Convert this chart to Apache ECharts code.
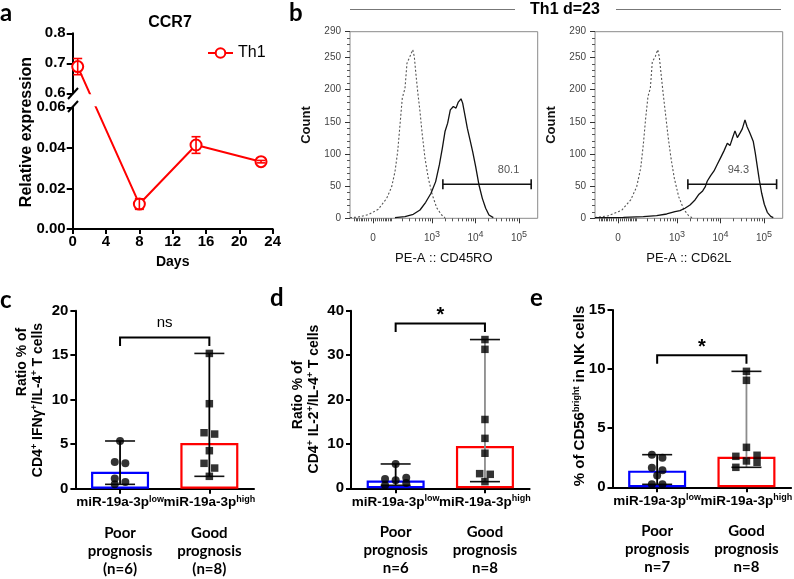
<!DOCTYPE html>
<html>
<head>
<meta charset="utf-8">
<script src="https://cdn.jsdelivr.net/npm/echarts@6/dist/echarts.min.js"></script>
</head>
<body style="margin:0;background:#fff">
<div id="container" style="width:794px;height:579px;"></div>
<script>
// ---- a: CCR7 expression, Th1 ----
var aDays = [0.6, 8, 14.8, 22.6];
var aMean = [0.689, 0.0123, 0.0414, 0.0332];
var aErr = [0.027, 0.0026, 0.0041, 0.0006];

// ---- b: histograms (x in display decades, y = count) ----
var cd45roIsoX = [1.115,1.306,1.536,1.766,1.958,2.073,2.149,2.211,2.264,2.317,2.379,2.425,2.494,2.557,2.593,2.625,2.671,2.724,2.777,2.839,2.915,3.008,3.107,3.222,3.299];
var cd45roIsoY = [1,2,5.6,14,31,49,72.5,103.7,145,186.8,202,241,251.6,262,251.6,228,197,166,129.7,93.4,62.3,36.3,16.5,5.1,0.9];
var cd45roX = [2.149,2.379,2.570,2.724,2.855,2.977,3.084,3.169,3.238,3.299,3.360,3.421,3.490,3.552,3.605,3.667,3.705,3.759,3.812,3.874,3.935,4.004,4.080,4.157,4.234,4.310,4.410];
var cd45roY = [1,2.5,6.2,12.9,24.9,38.9,57,83,109,134.8,147.9,168.6,173.7,171.2,180.6,185.7,179,159.7,140,121.9,103.7,80.3,51.8,31,15.6,5.1,1];
var cd62lIsoX = [1.115,1.421,1.729,1.935,2.073,2.165,2.225,2.280,2.333,2.387,2.432,2.502,2.557,2.593,2.632,2.685,2.747,2.800,2.862,2.938,3.039,3.154,3.268,3.345];
var cd62lIsoY = [1,4,12.4,28.5,49,77.8,114,155.7,189.3,202,242.8,251.6,262,251,225.7,192,155.7,124.5,93.4,62.3,33.6,14,4,1];
var cd62lX = [1.115,1.766,2.225,2.533,2.763,2.954,3.069,3.184,3.299,3.414,3.506,3.590,3.651,3.697,3.774,3.851,3.927,4.004,4.080,4.157,4.218,4.280,4.333,4.387,4.448,4.501,4.563,4.609,4.678,4.754,4.800,4.846,4.892,4.947,5.007,5.076,5.154,5.214];
var cd62lY = [1,1.4,2.5,4,6.7,10.3,11.8,15.6,20.7,28.5,37.4,42.5,49.2,58,66.3,73.6,84,94.3,104.8,116.7,113,125.5,135.9,125.5,132.3,139,153,142.6,132.3,119.2,101.2,80.3,59.6,38.9,21.8,9.3,3.1,1];
var gateFrom = [3.25, 3.25];
var gateTo = [5.28, 5.29];
var gateLevel = [53, 53];
var gateText = ['80.1', '94.3'];
var gateTextX = [4.76, 4.41];
var gateTextY = [75, 75];
var majorTickValues = [0, 1000, 10000, 100000];

// ---- c, d, e: dot plots ----
var groupSup = ['low', 'high'];
var cLow = [5.36, 2.85, 3.0, 1.16, 0.75, 0.49];
var cHigh = [15.2, 9.55, 6.29, 6.14, 4.27, 2.85, 2.32, 1.39];
var cBar = [1.91, 5.13];
var dLow = [5.48, 2.4, 2.1, 1.8, 1.2, 0.68];
var dHigh = [33.5, 31.3, 15.5, 11.25, 7.9, 3.3, 3.15, 1.5];
var dBar = [1.73, 9.5];
var eLow = [2.76, 2.51, 1.66, 1.44, 0.99, 0.25, 0.25];
var eHigh = [9.81, 9.05, 3.38, 2.71, 2.62, 2.23, 2.11, 1.69];
var eBar = [1.41, 2.59];
var sigText = ['ns', '*', '*'];

var RED = '#ff0000', BLUE = '#0000ff';
var AR = "'Liberation Sans', Arial, sans-serif";
var CAL = "Lato, 'Open Sans', sans-serif";

var grids = [
  {left: 72.7, top: 33.3, width: 200, height: 60},
  {left: 72.7, top: 107.3, width: 200, height: 121.7},
  {left: 350, top: 31.7, width: 187.7, height: 186.6, show: true, borderColor: '#8a8a8a', borderWidth: 1},
  {left: 595, top: 31.7, width: 187.7, height: 186.6, show: true, borderColor: '#8a8a8a', borderWidth: 1},
  {left: 350, top: 31.7, width: 187.7, height: 186.6},
  {left: 595, top: 31.7, width: 187.7, height: 186.6},
  {left: 75.4, top: 310.7, width: 178.6, height: 178},
  {left: 351, top: 310.7, width: 178.6, height: 177.6},
  {left: 612.5, top: 310, width: 178.6, height: 177.3}
];
grids.forEach(function (g) { g.outerBoundsMode = 'none'; g.containLabel = false; });

// broken y axis of panel a: pixel mapping, so the line stays straight across the gap
var aTop = {min: 0.6, max: 0.8, g: grids[0]};
var aBot = {min: 0, max: 0.06, g: grids[1]};
function aPx(v) {
  var s = v >= aTop.min ? aTop : aBot;
  return s.g.top + (s.max - v) / (s.max - s.min) * s.g.height;
}
function aVal(s, px) { return s.max - (px - s.g.top) / s.g.height * (s.max - s.min); }

// biexponential-like display scale of the flow axes
function biex(v) { return 3 + (Math.asinh(v / 88) - Math.asinh(1000 / 88)) / Math.LN10; }
var bMin = 1.115, bMax = 5.43;
var majorU = majorTickValues.map(biex);
var minorVals = [];
for (var k = 1; k <= 9; k++) {
  minorVals.push(10 * k, -10 * k, 100 * k, -100 * k);
  if (k > 1) minorVals.push(1000 * k, 10000 * k);
}
var minorU = minorVals.map(biex).filter(function (u) { return u > bMin && u < bMax; });
function majorLabel(u) {
  for (var i = 0; i < majorU.length; i++) {
    if (Math.abs(majorU[i] - u) < 1e-6) {
      var v = majorTickValues[i];
      return v === 0 ? '0' : '10{s|' + Math.round(Math.log10(v)) + '}';
    }
  }
  return '';
}

// simple swarm: close points are spread sideways (pixel offsets)
function swarm(vals, pxPerUnit) {
  var order = vals.map(function (v, i) { return i; }).sort(function (a, b) { return vals[b] - vals[a]; });
  var clusters = [], cur = [];
  order.forEach(function (i, n) {
    if (n > 0 && (vals[order[n - 1]] - vals[i]) * pxPerUnit < 5.2) cur.push(i);
    else { if (cur.length) clusters.push(cur); cur = [i]; }
  });
  clusters.push(cur);
  var off = [];
  clusters.forEach(function (c) {
    var pat = c.length === 1 ? [0] : c.length <= 3 ? [-5.3, 5.3] : [10.6, -10.6, 0];
    c.forEach(function (i, j) { off[i] = pat[j % pat.length]; });
  });
  return off;
}

var xAxis = [], yAxis = [], series = [];

// ---------- panel a ----------
xAxis.push({gridIndex: 0, type: 'value', min: 0, max: 24, show: false});
xAxis.push({
  gridIndex: 1, type: 'value', min: 0, max: 24, interval: 4,
  axisLine: {show: true, lineStyle: {color: '#000', width: 2}},
  axisTick: {show: true, length: 5, lineStyle: {color: '#000', width: 2}},
  axisLabel: {fontSize: 15, fontWeight: 'bold', color: '#000', margin: 5},
  splitLine: {show: false},
  name: 'Days', nameLocation: 'middle', nameGap: 26,
  nameTextStyle: {fontSize: 14, fontWeight: 'bold', color: '#000'}
});
[aTop, aBot].forEach(function (s, i) {
  yAxis.push({
    gridIndex: i, type: 'value', min: s.min, max: s.max, interval: i ? 0.02 : 0.1,
    axisLine: {show: true, lineStyle: {color: '#000', width: 2}},
    axisTick: {show: true, length: 6, lineStyle: {color: '#000', width: 2}},
    axisLabel: {fontSize: 15, fontWeight: 'bold', color: '#000', margin: 7,
      formatter: function (v) { return v.toFixed(i ? 2 : 1); }},
    splitLine: {show: false}
  });
  series.push({
    type: 'line', name: 'Th1', xAxisIndex: i, yAxisIndex: i, clip: true, z: 3,
    symbol: 'emptyCircle', symbolSize: 11,
    itemStyle: {color: RED, borderWidth: 2},
    lineStyle: {color: RED, width: 2},
    data: aDays.map(function (d, j) { return [d, aVal(s, aPx(aMean[j]))]; })
  });
  series.push({
    type: 'custom', xAxisIndex: i, yAxisIndex: i, z: 4,
    data: aDays.map(function (d, j) { return [d, aMean[j] - aErr[j], aMean[j] + aErr[j], aMean[j]]; })
      .filter(function (r) { return r[3] >= s.min && r[3] <= s.max; }),
    renderItem: function (params, api) {
      var lo = api.coord([api.value(0), api.value(1)]);
      var hi = api.coord([api.value(0), api.value(2)]);
      var st = {stroke: RED, lineWidth: 1.6};
      return {type: 'group', children: [
        {type: 'line', shape: {x1: lo[0], y1: lo[1], x2: hi[0], y2: hi[1]}, style: st},
        {type: 'line', shape: {x1: lo[0] - 4.5, y1: lo[1], x2: lo[0] + 4.5, y2: lo[1]}, style: st},
        {type: 'line', shape: {x1: hi[0] - 4.5, y1: hi[1], x2: hi[0] + 4.5, y2: hi[1]}, style: st}
      ]};
    }
  });
});

// ---------- panel b ----------
var bNames = ['PE-A :: CD45RO', 'PE-A :: CD62L'];
[2, 3].forEach(function (g, i) {
  xAxis.push({
    gridIndex: g, type: 'value', min: bMin, max: bMax,
    axisLine: {show: false},
    axisTick: {show: true, customValues: majorU, length: 5, lineStyle: {color: '#333'}},
    axisLabel: {show: true, customValues: majorU, formatter: majorLabel, color: '#444', fontSize: 10,
      lineHeight: 16, margin: 12, rich: {s: {fontSize: 9, color: '#444', lineHeight: 2, verticalAlign: 'top'}}},
    splitLine: {show: false},
    name: bNames[i], nameLocation: 'middle', nameGap: 34,
    nameTextStyle: {fontSize: 13, color: '#111'}
  });
  yAxis.push({
    gridIndex: g, type: 'value', min: 0, max: 290, interval: 50,
    axisLine: {show: false},
    axisTick: {show: true, length: 5, lineStyle: {color: '#333'}},
    minorTick: {show: true, splitNumber: 5, length: 3, lineStyle: {color: '#555'}},
    axisLabel: {fontSize: 10, color: '#444', margin: 9},
    splitLine: {show: false}, minorSplitLine: {show: false},
    name: 'Count', nameLocation: 'middle', nameGap: 37,
    nameTextStyle: {fontSize: 13, fontWeight: 'bold', color: '#111'}
  });
});
[4, 5].forEach(function (g) {
  xAxis.push({
    gridIndex: g, type: 'value', min: bMin, max: bMax,
    axisLine: {show: false}, axisLabel: {show: false}, splitLine: {show: false},
    axisTick: {show: true, customValues: minorU, length: 3, lineStyle: {color: '#555'}}
  });
  yAxis.push({gridIndex: g, type: 'value', min: 0, max: 290, show: false});
});
[[cd45roIsoX, cd45roIsoY, 2, true], [cd45roX, cd45roY, 2, false],
 [cd62lIsoX, cd62lIsoY, 3, true], [cd62lX, cd62lY, 3, false]].forEach(function (h) {
  series.push({
    type: 'line', xAxisIndex: h[2], yAxisIndex: h[2], showSymbol: false, symbol: 'none', silent: true, z: 3,
    lineStyle: h[3] ? {color: '#555', width: 1.1, type: [2, 2]} : {color: '#111', width: 1.3},
    data: h[0].map(function (x, j) { return [x, h[1][j]]; })
  });
});
[2, 3].forEach(function (g, i) {
  series.push({
    type: 'custom', xAxisIndex: g, yAxisIndex: g, z: 4,
    data: [[gateFrom[i], gateTo[i], gateLevel[i], gateTextX[i], gateTextY[i]]],
    renderItem: function (params, api) {
      var a = api.coord([api.value(0), api.value(2)]);
      var b = api.coord([api.value(1), api.value(2)]);
      var t = api.coord([api.value(3), api.value(4)]);
      var st = {stroke: '#111', lineWidth: 1.6};
      return {type: 'group', children: [
        {type: 'line', shape: {x1: a[0], y1: a[1], x2: b[0], y2: b[1]}, style: st},
        {type: 'line', shape: {x1: a[0], y1: a[1] - 5, x2: a[0], y2: a[1] + 5}, style: st},
        {type: 'line', shape: {x1: b[0], y1: b[1] - 5, x2: b[0], y2: b[1] + 5}, style: st},
        {type: 'text', x: t[0], y: t[1], style: {text: gateText[i], fill: '#555', font: '11px ' + AR,
          align: 'center', verticalAlign: 'middle', textAlign: 'center', textVerticalAlign: 'middle'}}
      ]};
    }
  });
});

// ---------- panels c, d, e ----------
var panels = [
  {grid: 6, low: cLow, high: cHigh, bar: cBar, max: 20, step: 5, paren: true, stem: '#000'},
  {grid: 7, low: dLow, high: dHigh, bar: dBar, max: 40, step: 10, paren: false, stem: '#8c8c8c'},
  {grid: 8, low: eLow, high: eHigh, bar: eBar, max: 15, step: 5, paren: false, stem: '#8c8c8c'}
];
panels.forEach(function (p, pi) {
  var g = p.grid;
  var groups = [p.low, p.high];
  var prog = groups.map(function (vs, i) {
    var n = 'n=' + vs.length;
    return [i ? 'Good' : 'Poor', 'prognosis', p.paren ? '(' + n + ')' : n];
  });
  xAxis.push({
    gridIndex: g, type: 'category', data: groupSup,
    axisLine: {show: true, lineStyle: {color: '#000', width: 2}},
    axisTick: {show: true, alignWithLabel: true, length: 5, lineStyle: {color: '#000', width: 2}},
    axisLabel: {
      margin: 6, interval: 0,
      formatter: function (v, i) {
        return '{m|miR-19a-3p}{s|' + v + '}\n{g| }\n' +
          prog[i].map(function (t) { return '{p|' + t + '}'; }).join('\n');
      },
      rich: {
        m: {fontSize: 13.5, fontWeight: 'bold', color: '#000', fontFamily: AR, lineHeight: 16},
        s: {fontSize: 9, fontWeight: 'bold', color: '#000', fontFamily: AR, lineHeight: 8, verticalAlign: 'top'},
        g: {fontSize: 6, lineHeight: 13},
        p: {fontSize: 15, fontWeight: 'bold', color: '#000', fontFamily: CAL, lineHeight: 18}
      }
    },
    splitLine: {show: false}
  });
  yAxis.push({
    gridIndex: g, type: 'value', min: 0, max: p.max, interval: p.step,
    axisLine: {show: true, lineStyle: {color: '#000', width: 2}},
    axisTick: {show: true, length: 5, lineStyle: {color: '#000', width: 2}},
    axisLabel: {fontSize: 15, fontWeight: 'bold', color: '#000', margin: 7},
    splitLine: {show: false}
  });
  series.push({
    type: 'bar', xAxisIndex: g, yAxisIndex: g, barWidth: 58, z: 2, silent: true,
    data: p.bar.map(function (v, i) {
      return {value: v, itemStyle: {color: '#fff', borderColor: i ? RED : BLUE, borderWidth: 2.2}};
    })
  });
  series.push({
    type: 'custom', xAxisIndex: g, yAxisIndex: g, z: 3,
    data: groups.map(function (vs, i) { return [i, Math.min.apply(null, vs), Math.max.apply(null, vs)]; }),
    renderItem: function (params, api) {
      var lo = api.coord([api.value(0), api.value(1)]);
      var hi = api.coord([api.value(0), api.value(2)]);
      var cap = {stroke: '#111', lineWidth: 1.6};
      return {type: 'group', children: [
        {type: 'line', shape: {x1: lo[0], y1: lo[1], x2: hi[0], y2: hi[1]},
          style: {stroke: params.dataIndex ? p.stem : '#000', lineWidth: 1.8}},
        {type: 'line', shape: {x1: lo[0] - 15, y1: lo[1], x2: lo[0] + 15, y2: lo[1]}, style: cap},
        {type: 'line', shape: {x1: hi[0] - 15, y1: hi[1], x2: hi[0] + 15, y2: hi[1]}, style: cap}
      ]};
    }
  });
  var k = grids[g].height / p.max;
  groups.forEach(function (vs, i) {
    var off = swarm(vs, k);
    series.push({
      type: 'scatter', xAxisIndex: g, yAxisIndex: g, z: 5, silent: true,
      symbol: i ? 'rect' : 'circle', symbolSize: i ? 7.5 : 8,
      itemStyle: {color: '#000'},
      data: vs.map(function (v, j) { return {value: [i, v], symbolOffset: [off[j], 0]}; })
    });
  });
  var star = sigText[pi] === '*';
  series.push({
    type: 'custom', xAxisIndex: g, yAxisIndex: g, z: 4,
    data: [[0, 1, Math.max.apply(null, p.low.concat(p.high))]],
    renderItem: function (params, api) {
      var a = api.coord([api.value(0), api.value(2)]);
      var b = api.coord([api.value(1), api.value(2)]);
      var top = a[1] - 16, leg = top + 8.5;
      return {type: 'group', children: [
        {type: 'polyline', shape: {points: [[a[0], leg], [a[0], top], [b[0], top], [b[0], leg]]},
          style: {stroke: '#000', lineWidth: 2, fill: 'none'}},
        {type: 'text', x: (a[0] + b[0]) / 2, y: top - (star ? 8 : 15),
          style: {text: sigText[pi], fill: '#000', font: (star ? 'bold 20px ' : '15px ') + AR,
            align: 'center', verticalAlign: 'middle', textAlign: 'center', textVerticalAlign: 'middle'}}
      ]};
    }
  });
});

// ---------- free text and decorations ----------
function txt(x, y, text, font, extra) {
  var el = {type: 'text', x: x, y: y, silent: true,
    style: {text: text, font: font, fill: '#000', align: 'center', verticalAlign: 'middle',
      textAlign: 'center', textVerticalAlign: 'middle'}};
  if (extra) {
    if (extra.rotation) el.rotation = extra.rotation;
    if (extra.rich) el.style.rich = extra.rich;
    if (extra.align) { el.style.align = extra.align; el.style.textAlign = extra.align; }
    if (extra.va) { el.style.verticalAlign = extra.va; el.style.textVerticalAlign = extra.va; }
    if (extra.lineHeight) el.style.lineHeight = extra.lineHeight;
  }
  return el;
}
function seg(x1, y1, x2, y2, color, w) {
  return {type: 'line', silent: true, shape: {x1: x1, y1: y1, x2: x2, y2: y2}, style: {stroke: color, lineWidth: w}};
}
var R90 = Math.PI / 2;
var supRich = {s: {font: 'bold 9px ' + AR, fill: '#000', lineHeight: 8, verticalAlign: 'top'}};
var letterFont = 'bold 24px ' + CAL;
var graphics = [
  txt(0, 25, 'a', letterFont, {align: 'left', va: 'bottom'}),
  txt(289, 25, 'b', letterFont, {align: 'left', va: 'bottom'}),
  txt(0, 312, 'c', letterFont, {align: 'left', va: 'bottom'}),
  txt(270, 310, 'd', letterFont, {align: 'left', va: 'bottom'}),
  txt(530, 310, 'e', letterFont, {align: 'left', va: 'bottom'}),
  txt(170, 23, 'CCR7', 'bold 16px ' + AR),
  txt(26.7, 132, 'Relative expression', 'bold 16px ' + AR, {rotation: R90}),
  seg(68, 99, 78, 88, '#000', 2),
  seg(68, 112, 78, 101, '#000', 2),
  txt(565, 10, 'Th1 d=23', 'bold 16px ' + AR),
  seg(350, 9.5, 515, 9.5, '#777', 1.2),
  seg(616, 9.5, 781, 9.5, '#777', 1.2),
  txt(22, 362, 'Ratio % of', 'bold 14px ' + AR, {rotation: R90}),
  txt(38.3, 400, 'CD4{s|+} IFNγ{s|+}/IL-4{s|+} T cells', 'bold 14px ' + AR, {rotation: R90, rich: supRich, lineHeight: 16}),
  txt(298, 395, 'Ratio % of', 'bold 14px ' + AR, {rotation: R90}),
  txt(314.5, 399, 'CD4{s|+} IL-2{s|+}/IL-4{s|+} T cells', 'bold 14px ' + AR, {rotation: R90, rich: supRich, lineHeight: 16}),
  txt(580, 396, '% of CD56{s|bright} in NK cells', 'bold 15px ' + AR, {rotation: R90, rich: supRich, lineHeight: 16})
];

var chart = echarts.init(document.getElementById('container'), null, {renderer: 'canvas'});
chart.setOption({
  animation: false,
  backgroundColor: '#fff',
  textStyle: {fontFamily: AR},
  legend: {
    data: ['Th1'], left: 202, top: 40, itemWidth: 25, itemHeight: 12,
    textStyle: {fontSize: 16, color: '#000', fontFamily: AR}
  },
  grid: grids,
  xAxis: xAxis,
  yAxis: yAxis,
  series: series,
  graphic: graphics
});
window.addEventListener('resize', chart.resize);
</script>
</body>
</html>
